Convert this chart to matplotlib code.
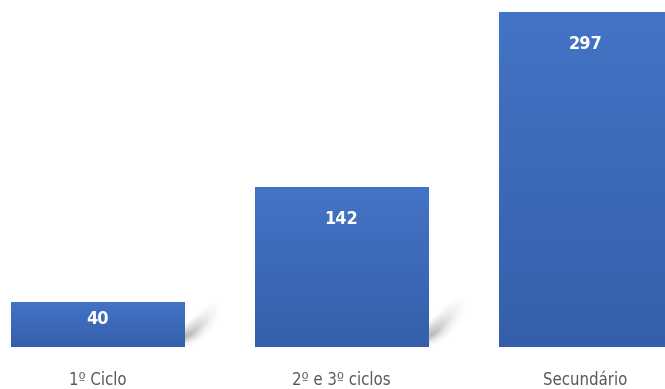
import matplotlib.pyplot as plt
import numpy as np

categories = ['1º Ciclo', '2º e 3º ciclos', 'Secundário']
values = [40, 142, 297]

fig = plt.figure(figsize=(6.65, 3.89), dpi=100)
ax = fig.add_axes([0, 42 / 389, 1, 347 / 389])
x = np.arange(len(values))
ax.set_xlim(-0.4, 2.326)
ax.set_ylim(0, 307.6)

bars = ax.bar(x, values, width=0.71, color='none', zorder=3)

# vertical gradient inside each bar
grad = np.linspace(0, 1, 256)[:, None, None]
top_c = np.array([0x44, 0x74, 0xc6]) / 255
bot_c = np.array([0x35, 0x5f, 0xaa]) / 255
img = top_c * (1 - grad) + bot_c * grad

for b in bars:
    x0, w, h = b.get_x(), b.get_width(), b.get_height()
    im = ax.imshow(img, extent=[x0, x0 + w, 0, h], aspect='auto', zorder=2,
                   origin='upper')
    im.set_clip_path(b)
    # soft slanted shadow at the lower right
    sw, sh = 0.16, min(h, 45)
    gx, gy = np.meshgrid(np.linspace(0, 1, 60), np.linspace(0, 1, 60))
    # band running from bottom-left up to upper-right
    d = np.abs(gy - (0.15 + 0.75 * gx))
    alpha = np.clip(1 - d / 0.35, 0, 1) * (1 - gx) ** 1.5 * 0.35
    alpha *= np.clip(gy * 4, 0, 1)
    shade = np.zeros((60, 60, 4))
    shade[..., 3] = alpha
    ax.imshow(shade, extent=[x0 + w, x0 + w + sw, 0, sh], origin='lower',
              aspect='auto', zorder=1, interpolation='bilinear')

ax.set_xlim(-0.4, 2.326)
ax.set_ylim(0, 307.6)

# value labels
px_per_unit = 347 / 307.6
for xi, v in zip(x, values):
    off = min(32, 0.37 * v * px_per_unit) / px_per_unit
    ax.text(xi, v - off, str(v), ha='center', va='center', color='white',
            fontsize=13, fontweight='bold', fontstretch='condensed', zorder=4)

for xi, c in zip(x, categories):
    ax.text(xi, -33 / px_per_unit, c, ha='center', va='center', color='#595959',
            fontsize=12, fontstretch='condensed', clip_on=False)

ax.axis('off')
fig.savefig('out.png', dpi=100)
